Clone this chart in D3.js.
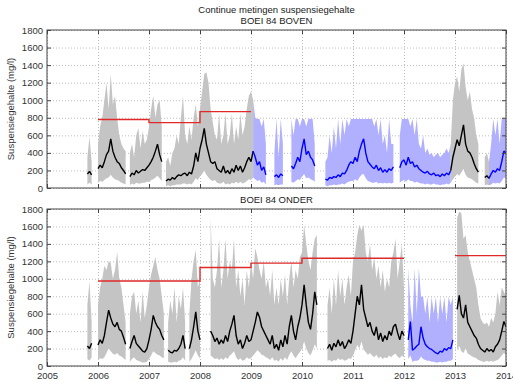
<!DOCTYPE html>
<html>
<head>
<meta charset="utf-8">
<script src="https://cdn.jsdelivr.net/npm/d3@7"></script>
<style>
  body { margin: 0; background: #fff; }
  text { font-family: "Liberation Sans", Arial, sans-serif; }
</style>
</head>
<body>
<div id="chart"></div>
<script>
// ---- data (mg/l), one row per year, half-month steps; row 0 starts at 2005.75 ----
const yearTicks = [2005, 2006, 2007, 2008, 2009, 2010, 2011, 2012, 2013, 2014];
const valueTicks = [0, 200, 400, 600, 800, 1000, 1200, 1400, 1600, 1800];

// BOEI 84 BOVEN
const topMed = [
  [null, 160, 190, 150, null, null],
  [220, 260, 230, 300, 380, 420, 560, 420, 350, 300, 280, 230, 200, 160, null, 130, 170, 150, 200, 170, 190, 210, 200, 230],
  [260, 300, 350, 420, 500, 380, 300, null, 80, 100, 90, 120, 100, 130, 150, 140, 160, 170, 140, 180, 160, 250, 400, 300],
  [450, 550, 680, 500, 400, 300, 280, 300, 220, 200, 180, 250, 170, 200, 160, 220, 180, 260, 200, 250, 180, 230, 300, 350],
  [300, 420, 350, 260, 300, 200, 240, 150, null, null, null, 130, 150, 120, 160, 140, null, null, null, 250, 220, 280, 350, 300],
  [450, 560, 380, 420, 350, 320, 250, null, null, null, null, 100, 90, 120, 110, 130, 120, 150, 130, 170, 160, 200, 260, 300],
  [280, 350, 300, 420, 500, 560, 400, 300, 270, 240, 220, 260, 200, 230, 180, 210, 180, 220, 200, 240, null, null, 230, 300],
  [320, 260, 350, 280, 300, 240, 260, 220, 200, 180, 170, 190, 160, 150, 170, 140, 150, 130, 160, 140, 170, 150, 200, 350],
  [450, 550, 480, 600, 720, 500, 420, 400, 350, 280, 220, 180, null, null, 120, 140, 110, 160, 200, 180, 220, 200, 300, 420, 400]
];
const topHi = [
  [null, 350, 580, 300, null, null],
  [500, 700, 800, 1000, 1200, 900, 1300, 950, 1050, 800, 600, 500, 450, 420, null, 400, 500, 350, 600, 680, 450, 650, 500, 550],
  [700, 900, 1050, 800, 950, 1000, 700, null, 300, 350, 250, 400, 450, 600, 500, 800, 1050, 600, 500, 700, 550, 800, 950, 700],
  [900, 1100, 1300, 1320, 1200, 900, 750, 600, 550, 850, 500, 600, 850, 500, 600, 850, 500, 700, 550, 850, 600, 700, 900, 1050],
  [1100, 1000, 800, 786, 786, 700, 786, 500, null, null, null, 400, 786, 350, 786, 500, null, null, null, 786, 600, 786, 786, 700],
  [786, 786, 700, 786, 786, 786, 500, null, null, null, null, 300, 350, 600, 400, 700, 450, 786, 500, 786, 600, 786, 700, 786],
  [786, 786, 786, 786, 786, 786, 786, 786, 786, 786, 700, 786, 600, 786, 500, 600, 400, 786, 500, 500, null, null, 600, 786],
  [786, 786, 786, 700, 786, 600, 786, 500, 450, 600, 400, 450, 380, 400, 350, 380, 400, 350, 380, 400, 450, 400, 500, 1000],
  [1200, 1270, 1100, 1350, 1420, 1150, 1000, 1100, 900, 800, 600, 500, null, null, 350, 400, 300, 500, 786, 600, 786, 500, 786, 786, 786]
];
const topLo = [
  [null, 40, 60, 40, null, null],
  [60, 80, 70, 90, 110, 120, 150, 120, 100, 90, 80, 60, 50, 40, null, 30, 50, 40, 60, 50, 50, 60, 60, 70],
  [70, 90, 100, 120, 140, 110, 80, null, 20, 30, 20, 30, 30, 40, 40, 40, 50, 50, 40, 50, 40, 70, 110, 90],
  [130, 160, 200, 150, 120, 90, 80, 90, 60, 50, 50, 70, 40, 50, 40, 60, 50, 70, 50, 70, 50, 60, 80, 100],
  [90, 120, 100, 80, 90, 60, 70, 40, null, null, null, 30, 40, 30, 40, 40, null, null, null, 70, 60, 80, 100, 90],
  [130, 160, 110, 120, 100, 90, 70, null, null, null, null, 30, 20, 30, 30, 40, 30, 40, 40, 50, 40, 60, 70, 80],
  [80, 100, 80, 120, 150, 160, 110, 80, 70, 60, 60, 70, 50, 60, 50, 60, 50, 60, 50, 60, null, null, 60, 80],
  [90, 70, 100, 80, 80, 60, 70, 60, 50, 50, 40, 50, 40, 40, 50, 40, 40, 30, 40, 40, 50, 40, 60, 100],
  [130, 160, 140, 180, 220, 150, 120, 110, 100, 80, 60, 50, null, null, 30, 40, 30, 40, 60, 50, 60, 50, 80, 120, 110]
];
const topBlueSpans = [[2009.07, 2012.94], [2013.68, 2014.1]];
const topNormStart = [2006, 2007, 2008];
const topNormEnd = [2007, 2008, 2009];
const topNorm = [780, 745, 870];

// BOEI 84 ONDER
const botMed = [
  [null, 230, 200, 260, null, null],
  [240, 300, 260, 350, 500, 640, 550, 480, 450, 500, 420, 400, 330, 250, null, 200, 280, 350, 260, 230, 200, 170, 160, 200],
  [300, 420, 580, 500, 450, 420, 350, 300, null, 180, 160, 150, 180, 170, 200, 250, 350, 200, null, 200, 300, 450, 620, 400],
  [300, null, null, null, null, 400, 350, 280, 320, 250, 300, 260, 350, 280, 400, 480, 580, 350, 250, 300, 200, 260, 350, 280],
  [300, 400, 500, 620, 560, 450, 400, 350, 300, 250, 350, 200, 250, 180, 300, 220, 350, 250, 450, 580, 400, 300, 450, 550],
  [700, 930, 700, 500, 420, 600, 850, 700, null, null, null, null, 200, 250, 180, 260, 220, 300, 230, 280, 200, 240, 300, 260],
  [400, 600, 800, 700, 930, 650, 550, 450, 500, 400, 350, 450, 300, 380, 280, 350, 300, 400, 350, 450, 480, 380, 300, 400],
  [350, null, 300, 510, 180, 200, 230, 250, 450, 320, 250, 220, 200, 190, 170, 150, 140, 170, 160, 200, 180, 210, 200, 300],
  [null, 650, 810, 600, 550, 700, 500, 450, 400, 350, 320, 250, 200, 180, 160, 200, 170, 190, 160, 220, 250, 300, 400, 510, 450]
];
const botHi = [
  [null, 700, 970, 500, null, null],
  [700, 900, 1000, 1150, 1100, 1200, 1180, 1000, 1100, 1310, 1000, 900, 700, 500, null, 600, 800, 850, 600, 750, 500, 850, 550, 700],
  [900, 1050, 1150, 1250, 1100, 1000, 800, 600, null, 500, 750, 600, 900, 500, 800, 650, 900, 500, null, 600, 1000, 1200, 1330, 900],
  [1000, null, null, null, null, 1700, 1000, 900, 1100, 1460, 900, 1100, 1460, 1000, 1200, 1100, 1460, 900, 1100, 800, 1000, 700, 1100, 900],
  [1200, 1000, 1350, 1250, 1100, 1000, 1200, 900, 1000, 800, 1100, 700, 900, 700, 1000, 800, 1050, 700, 1000, 1200, 900, 1100, 1000, 1250],
  [1300, 1620, 1400, 1200, 1100, 1300, 1460, 1500, null, null, null, null, 700, 900, 600, 1000, 700, 1100, 800, 1000, 700, 900, 1050, 800],
  [1200, 1300, 1500, 1620, 1550, 1620, 1300, 1200, 1400, 1100, 1250, 1000, 1150, 900, 1100, 850, 1000, 900, 1200, 1300, 1460, 1000, 1200, 1400],
  [900, null, 1120, 700, 500, 1120, 600, 1120, 795, 795, 600, 795, 500, 795, 600, 795, 500, 795, 600, 795, 500, 795, 700, 795],
  [null, 1700, 1770, 1750, 1460, 1500, 1300, 1200, 1100, 1000, 900, 700, 550, 500, 480, 500, 450, 550, 500, 600, 850, 700, 900, 850, 800]
];
const botLo = [
  [null, 80, 60, 100, null, null],
  [70, 90, 80, 100, 150, 200, 170, 140, 130, 150, 120, 110, 90, 70, null, 50, 80, 100, 70, 60, 50, 40, 40, 50],
  [80, 120, 170, 150, 130, 120, 100, 90, null, 50, 40, 40, 50, 40, 60, 70, 100, 60, null, 50, 80, 130, 180, 120],
  [90, null, null, null, null, 120, 100, 80, 90, 70, 90, 70, 100, 80, 120, 140, 170, 100, 70, 90, 60, 70, 100, 80],
  [90, 120, 150, 180, 160, 130, 120, 100, 90, 70, 100, 60, 70, 50, 90, 60, 100, 70, 130, 170, 120, 90, 130, 160],
  [200, 280, 200, 150, 120, 180, 250, 200, null, null, null, null, 60, 70, 50, 70, 60, 90, 70, 80, 60, 70, 90, 80],
  [120, 180, 240, 200, 280, 190, 160, 130, 150, 120, 100, 130, 90, 110, 80, 100, 90, 120, 100, 130, 140, 110, 90, 120],
  [100, null, 80, 120, 50, 60, 60, 70, 110, 80, 70, 60, 60, 50, 50, 40, 40, 50, 40, 50, 50, 60, 60, 80],
  [null, 180, 230, 170, 150, 200, 140, 130, 110, 100, 90, 70, 60, 50, 50, 60, 50, 60, 50, 60, 70, 90, 120, 150, 130]
];
const botBlueSpans = [[2012.06, 2012.99]];
const botNormStart = [2006, 2008, 2009, 2010, 2013];
const botNormEnd = [2008, 2009, 2010, 2012, 2014];
const botNorm = [975, 1130, 1180, 1235, 1265];

// ---- layout ----
const W = 513, H = 382;
const margin = {left: 47, right: 7};
const svg = d3.select("#chart").append("svg").attr("width", W).attr("height", H);

const x = d3.scaleLinear().domain([2005, 2014]).range([margin.left, W - margin.right]);

function toPoints(medRows, hiRows, loRows, spans) {
  let pts = [];
  medRows.forEach((row, r) => {
    let start = r === 0 ? 2005.75 : 2005 + r;
    row.forEach((v, k) => {
      pts.push({t: start + k / 24, med: v, hi: hiRows[r][k], lo: loRows[r][k]});
    });
  });
  pts.forEach(p => p.blue = spans.some(s => p.t >= s[0] && p.t <= s[1]));
  return pts;
}

// split into runs of one colour, repeating the joint point so runs touch
function toRuns(pts) {
  let runs = [], cur = null, prev = null;
  pts.forEach(p => {
    if (p.med == null) { cur = null; prev = null; return; }
    if (!cur || cur.blue !== p.blue) {
      cur = {blue: p.blue, pts: prev ? [prev] : []};
      runs.push(cur);
    }
    cur.pts.push(p);
    prev = p;
  });
  return runs;
}

function drawPanel(cfg) {
  let y = d3.scaleLinear().domain([0, 1800]).range([cfg.bottom, cfg.top]);
  let g = svg.append("g");
  let w = x.range()[1] - x.range()[0];
  let h = cfg.bottom - cfg.top;

  let clipId = "clip" + cfg.id;
  g.append("clipPath").attr("id", clipId).append("rect")
    .attr("x", x.range()[0]).attr("y", cfg.top).attr("width", w).attr("height", h);

  // dotted grid
  g.append("g").attr("transform", "translate(" + x.range()[0] + ",0)")
    .call(d3.axisLeft(y).tickValues(valueTicks).tickSize(-w).tickFormat(""))
    .call(s => s.select(".domain").remove())
    .selectAll("line").attr("stroke", "#bdbdbd").attr("stroke-dasharray", "1,2");
  g.append("g").attr("transform", "translate(0," + cfg.bottom + ")")
    .call(d3.axisBottom(x).tickValues(yearTicks).tickSize(-h).tickFormat(""))
    .call(s => s.select(".domain").remove())
    .selectAll("line").attr("stroke", "#bdbdbd").attr("stroke-dasharray", "1,2");

  let plot = g.append("g").attr("clip-path", "url(#" + clipId + ")");
  let runs = toRuns(toPoints(cfg.med, cfg.hi, cfg.lo, cfg.spans));

  let area = d3.area().x(d => x(d.t)).y0(d => y(d.lo)).y1(d => y(d.hi));
  let line = d3.line().x(d => x(d.t)).y(d => y(d.med));

  plot.selectAll(".band").data(runs).enter().append("path")
    .attr("d", d => area(d.pts))
    .attr("fill", d => d.blue ? "#b0b0ff" : "#c4c4c4");
  plot.selectAll(".med").data(runs).enter().append("path")
    .attr("d", d => line(d.pts))
    .attr("fill", "none")
    .attr("stroke", d => d.blue ? "#0000ff" : "#000")
    .attr("stroke-width", 1.4)
    .attr("stroke-linejoin", "bevel");

  // stepped norm line
  let normPts = [];
  cfg.normStart.forEach((s, i) => {
    if (i > 0 && cfg.normEnd[i - 1] !== s) normPts.push(null);
    normPts.push([s, cfg.norm[i]], [cfg.normEnd[i], cfg.norm[i]]);
  });
  plot.append("path")
    .attr("d", d3.line().defined(d => d != null).x(d => x(d[0])).y(d => y(d[1]))(normPts))
    .attr("fill", "none").attr("stroke", "#e02a2a").attr("stroke-width", 1.4);

  // box with inward ticks on all sides
  g.append("rect").attr("x", x.range()[0]).attr("y", cfg.top).attr("width", w).attr("height", h)
    .attr("fill", "none").attr("stroke", "#444").attr("stroke-width", 1);

  let left = g.append("g").attr("transform", "translate(" + x.range()[0] + ",0)")
    .call(d3.axisLeft(y).tickValues(valueTicks).tickSizeInner(-4).tickSizeOuter(0)
      .tickPadding(4).tickFormat(d3.format("d")));
  left.select(".domain").remove();
  left.selectAll("text").attr("font-size", "9.5px").attr("fill", "#333");
  left.selectAll("line").attr("stroke", "#444");

  let right = g.append("g").attr("transform", "translate(" + x.range()[1] + ",0)")
    .call(d3.axisRight(y).tickValues(valueTicks).tickSizeInner(-4).tickSizeOuter(0).tickFormat(""));
  right.select(".domain").remove();
  right.selectAll("line").attr("stroke", "#444");

  let topAx = g.append("g").attr("transform", "translate(0," + cfg.top + ")")
    .call(d3.axisTop(x).tickValues(yearTicks).tickSizeInner(-4).tickSizeOuter(0).tickFormat(""));
  topAx.select(".domain").remove();
  topAx.selectAll("line").attr("stroke", "#444");

  let bot = g.append("g").attr("transform", "translate(0," + cfg.bottom + ")")
    .call(d3.axisBottom(x).tickValues(yearTicks).tickSizeInner(-4).tickSizeOuter(0)
      .tickPadding(5).tickFormat(cfg.xLabels ? d3.format("d") : ""));
  bot.select(".domain").remove();
  bot.selectAll("line").attr("stroke", "#444");
  bot.selectAll("text").attr("font-size", "9.5px").attr("fill", "#333").attr("dy", "0.85em");

  g.append("text")
    .attr("transform", "translate(14," + (cfg.top + h / 2) + ") rotate(-90)")
    .attr("text-anchor", "middle").attr("font-size", "9.5px").attr("fill", "#333")
    .text("Suspensiegehalte (mg/l)");

  g.append("text").attr("x", (x.range()[0] + x.range()[1]) / 2).attr("y", cfg.top - 6)
    .attr("text-anchor", "middle").attr("font-size", "9.5px").attr("fill", "#222")
    .text(cfg.title);
}

svg.append("text").attr("x", (x.range()[0] + x.range()[1]) / 2).attr("y", 13)
  .attr("text-anchor", "middle").attr("font-size", "9.5px").attr("fill", "#222")
  .text("Continue metingen suspensiegehalte");

drawPanel({id: "top", top: 30, bottom: 188, title: "BOEI 84 BOVEN", xLabels: false,
  med: topMed, hi: topHi, lo: topLo, spans: topBlueSpans,
  normStart: topNormStart, normEnd: topNormEnd, norm: topNorm});
drawPanel({id: "bot", top: 209, bottom: 366, title: "BOEI 84 ONDER", xLabels: true,
  med: botMed, hi: botHi, lo: botLo, spans: botBlueSpans,
  normStart: botNormStart, normEnd: botNormEnd, norm: botNorm});
</script>
</body>
</html>
